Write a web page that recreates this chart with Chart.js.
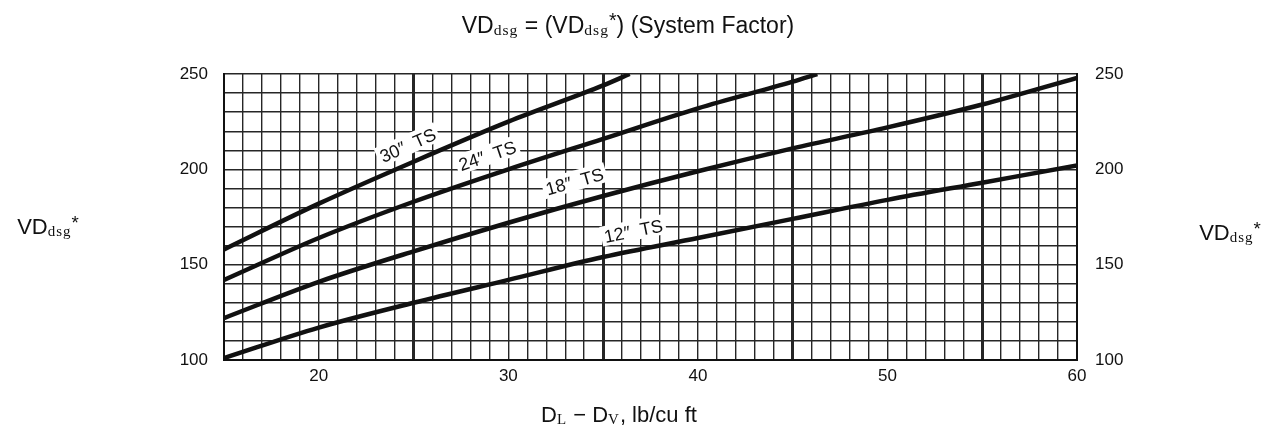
<!DOCTYPE html>
<html>
<head>
<meta charset="utf-8">
<script src="https://cdn.jsdelivr.net/npm/chart.js@4"></script>
<style>
    html, body { margin: 0; padding: 0; background: #fff; }
    #wrap { position: relative; width: 1276px; height: 431px; overflow: hidden; }
    #chart { position: absolute; left: 0; top: 0; }
    .lbl { position: absolute; transform: translate(-50%, -50%); white-space: nowrap;
           font-family: 'Liberation Sans', Arial, sans-serif; color: #111; }
    .sub { font-family: 'Liberation Serif', serif; font-size: 0.68em; letter-spacing: 1px; vertical-align: -0.15em; }
    .star { font-size: 0.85em; vertical-align: 0.3em; }
    #title { left: 628px; top: 24px; font-size: 23px; }
    #yTitleL { left: 48px; top: 226px; font-size: 22px; }
    #yTitleR { left: 1230px; top: 232px; font-size: 22px; }
    #xTitle { left: 619px; top: 415px; font-size: 22px; }
</style>
</head>
<body>
<div id="wrap">
    <canvas id="chart" width="1276" height="431"></canvas>
    <div class="lbl" id="title">VD<span class="sub">dsg</span> = (VD<span class="sub">dsg</span><span class="star">*</span>) (System Factor)</div>
    <div class="lbl" id="yTitleL">VD<span class="sub">dsg</span><span class="star">*</span></div>
    <div class="lbl" id="yTitleR">VD<span class="sub">dsg</span><span class="star">*</span></div>
    <div class="lbl" id="xTitle">D<span class="sub">L</span> − D<span class="sub">V</span>, lb/cu ft</div>
</div>
<script>
// DL - DV, lb/cu ft  vs  VDdsg*
const x12 = [15, 20, 25, 30, 35, 40, 45, 50, 55, 60];
const ts12 = [101, 117, 130, 142, 154, 164, 174, 184, 193, 202];

const x18 = [15, 20, 25, 30, 35, 40, 45, 50, 55, 60];
const ts18 = [122, 141, 157, 172, 186, 199, 211, 222, 234, 248];

const x24 = [15, 20, 25, 30, 35, 40, 45, 46.3];
const ts24 = [142, 164, 183, 200, 216, 232, 246, 250];

const x30 = [15, 20, 25, 30, 35, 36.4];
const ts30 = [158, 182, 204, 225, 244, 250];

const xTickLabels = [20, 30, 40, 50, 60];
const yTickLabels = [100, 150, 200, 250];
const boldXLines = [25, 35, 45, 55];

// curve captions: text, dataset index, centre (x, y) in data units
const captionText = ['30″  TS', '24″  TS', '18″  TS', '12″  TS'];
const captionSeries = [0, 1, 2, 3];
const captionX = [24.7, 28.9, 33.5, 36.6];
const captionY = [212.5, 207, 193.5, 167.5];

function toPoints(xs, ys) {
    return xs.map((v, i) => ({ x: v, y: ys[i] }));
}

function curve(xs, ys) {
    return {
        data: toPoints(xs, ys),
        borderColor: '#111',
        borderWidth: 4.5,
        pointRadius: 0,
        fill: false,
        cubicInterpolationMode: 'monotone'
    };
}

const captionPlugin = {
    id: 'captions',
    afterDatasetsDraw(chart) {
        const ctx = chart.ctx;
        const xs = chart.scales.x;
        const ys = chart.scales.y;
        ctx.save();
        ctx.font = '18px "Liberation Sans", Arial, sans-serif';
        ctx.textAlign = 'center';
        ctx.textBaseline = 'middle';
        captionText.forEach((text, i) => {
            const pts = chart.data.datasets[captionSeries[i]].data;
            // slope of the curve near the caption, in pixels
            let k = 0;
            while (k < pts.length - 2 && pts[k + 1].x < captionX[i]) k++;
            const dx = xs.getPixelForValue(pts[k + 1].x) - xs.getPixelForValue(pts[k].x);
            const dy = ys.getPixelForValue(pts[k + 1].y) - ys.getPixelForValue(pts[k].y);
            const angle = Math.atan2(dy, dx);
            const px = xs.getPixelForValue(captionX[i]);
            const py = ys.getPixelForValue(captionY[i]);
            const w = ctx.measureText(text).width + 6;
            ctx.save();
            ctx.translate(px, py);
            ctx.rotate(angle);
            ctx.fillStyle = '#fff';
            ctx.fillRect(-w / 2, -11, w, 20);
            ctx.fillStyle = '#111';
            ctx.fillText(text, 0, 1);
            ctx.restore();
        });
        ctx.restore();
    }
};

Chart.defaults.font.family = '"Liberation Sans", Arial, sans-serif';
Chart.defaults.font.size = 17;
Chart.defaults.color = '#111';

const gridColor = '#262626';

new Chart(document.getElementById('chart'), {
    type: 'line',
    data: {
        datasets: [curve(x30, ts30), curve(x24, ts24), curve(x18, ts18), curve(x12, ts12)]
    },
    options: {
        responsive: false,
        animation: false,
        layout: { padding: { top: 74, left: 0, right: 0, bottom: 0 } },
        plugins: {
            legend: { display: false },
            tooltip: { enabled: false },
            title: { display: false }
        },
        scales: {
            x: {
                type: 'linear',
                min: 15,
                max: 60,
                afterFit: (scale) => { scale.height = 71; },
                border: { display: true, color: '#111', width: 2 },
                grid: {
                    drawTicks: false,
                    color: gridColor,
                    lineWidth: (c) => boldXLines.includes(c.tick && c.tick.value) ? 3 : 1.4
                },
                ticks: {
                    stepSize: 1,
                    autoSkip: false,
                    maxRotation: 0,
                    padding: 6,
                    callback: (v) => xTickLabels.includes(v) ? String(v) : ''
                }
            },
            y: {
                type: 'linear',
                min: 100,
                max: 250,
                afterFit: (scale) => { scale.width = 224; },
                border: { display: true, color: '#111', width: 2 },
                grid: { drawTicks: false, color: gridColor, lineWidth: 1.4 },
                ticks: {
                    stepSize: 10,
                    autoSkip: false,
                    padding: 16,
                    callback: (v) => yTickLabels.includes(v) ? String(v) : ''
                }
            },
            y2: {
                type: 'linear',
                position: 'right',
                min: 100,
                max: 250,
                afterFit: (scale) => { scale.width = 199; },
                border: { display: true, color: '#111', width: 2 },
                grid: { display: false, drawTicks: false },
                ticks: {
                    stepSize: 10,
                    autoSkip: false,
                    padding: 18,
                    callback: (v) => yTickLabels.includes(v) ? String(v) : ''
                }
            }
        }
    },
    plugins: [captionPlugin]
});
</script>
</body>
</html>
